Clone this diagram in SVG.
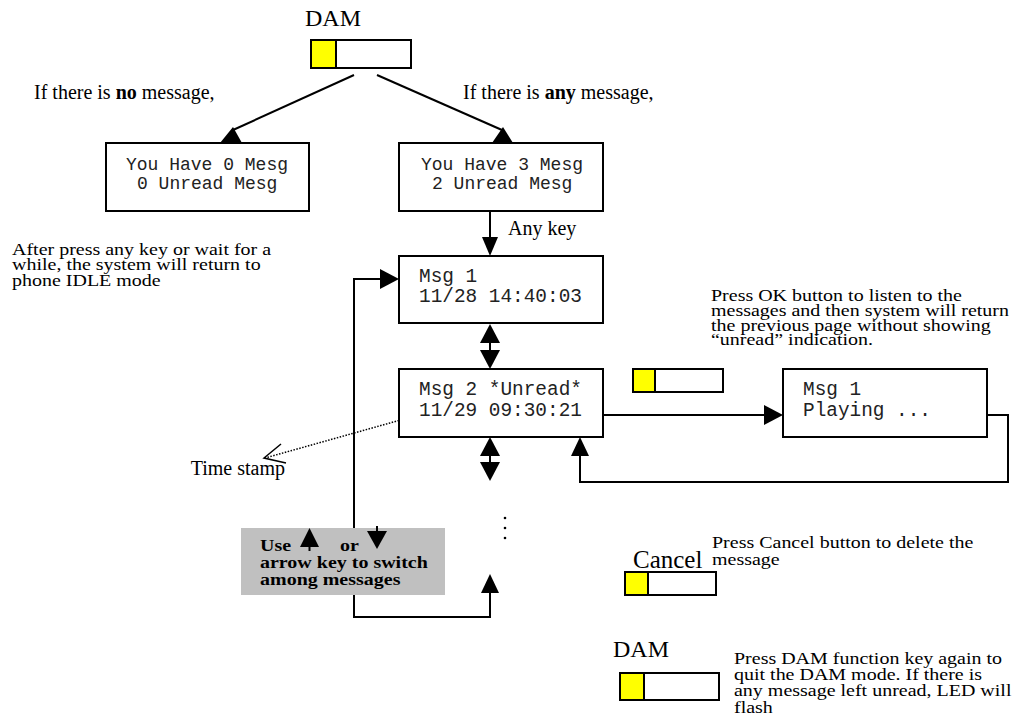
<svg xmlns="http://www.w3.org/2000/svg" width="1014" height="719" viewBox="0 0 1014 719">
<style>
.t{font-family:"Liberation Serif","Times New Roman",serif;font-size:20px;fill:#000}
.n{font-family:"Liberation Serif","Times New Roman",serif;font-size:17px;fill:#000}
.big{font-family:"Liberation Serif","Times New Roman",serif;font-size:24px;fill:#000}
.b{font-weight:bold}
.m18{font-family:"Liberation Mono","Courier New",monospace;font-size:18px;fill:#222}
.m19{font-family:"Liberation Mono","Courier New",monospace;font-size:19.4px;fill:#222}
.box{fill:#fff;stroke:#000;stroke-width:2}
.btn{fill:#fff;stroke:#000;stroke-width:2}
.led{fill:#ffff00;stroke:#000;stroke-width:2}
.ln{fill:none;stroke:#000;stroke-width:2}
.dot{fill:none;stroke:#000;stroke-width:1.5;stroke-dasharray:1.5 1.5}
.ah{fill:#000;stroke:none}
</style>
<rect x="0" y="0" width="1014" height="719" fill="#fff"/>

<g id="connectors">
  <line class="ln" x1="354" y1="75" x2="233" y2="130"/>
  <polygon class="ah" points="220,143 242,143 233,127"/>
  <line class="ln" x1="377" y1="75" x2="502" y2="130"/>
  <polygon class="ah" points="492,143 513,143 503,127"/>
  <line class="ln" x1="490" y1="211" x2="490" y2="238"/>
  <polygon class="ah" points="482,237 498,237 490,256"/>
  <line class="ln" x1="490" y1="335" x2="490" y2="358"/>
  <polygon class="ah" points="480,343 500,343 490,324"/>
  <polygon class="ah" points="480,350 500,350 490,369"/>
  <line class="ln" x1="490" y1="448" x2="490" y2="470"/>
  <polygon class="ah" points="480,456 500,456 490,437"/>
  <polygon class="ah" points="480,462 500,462 490,481"/>
  <line class="ln" x1="603" y1="415" x2="766" y2="415"/>
  <polygon class="ah" points="764,405 764,425 783,415"/>
  <polyline class="ln" points="987,415 1008,415 1008,482 580,482 580,454"/>
  <polygon class="ah" points="571,456 589,456 580,437"/>
  <polyline class="ln" points="490,591 490,617 354,617 354,279 382,279"/>
  <polygon class="ah" points="481,593 499,593 490,574"/>
  <polygon class="ah" points="380,269 380,289 399,279"/>
  <line class="dot" x1="422" y1="414" x2="265" y2="458"/>
  <polyline class="ln" style="stroke-width:1.5" points="281,444 264,458 286,463"/>
</g>

<g id="dam-top">
  <text class="big" x="305" y="26">DAM</text>
  <rect class="btn" x="311" y="40" width="100" height="28"/>
  <rect class="led" x="311" y="40" width="25" height="28"/>
</g>

<g id="label-no">
  <text class="t" x="34" y="99">If there is <tspan class="b">no</tspan> message,</text>
</g>
<g id="label-any">
  <text class="t" x="463" y="99">If there is <tspan class="b">any</tspan> message,</text>
</g>

<g id="box-0mesg">
  <rect class="box" x="106" y="143" width="203" height="68"/>
  <text class="m18" x="126" y="170">You Have 0 Mesg</text>
  <text class="m18" x="137" y="189">0 Unread Mesg</text>
</g>

<g id="box-3mesg">
  <rect class="box" x="399" y="143" width="204" height="68"/>
  <text class="m18" x="421" y="170">You Have 3 Mesg</text>
  <text class="m18" x="432" y="189">2 Unread Mesg</text>
</g>

<g id="label-anykey">
  <text class="t" x="508" y="235">Any key</text>
</g>

<g id="note-idle" transform="translate(12,0) scale(1.176,1)">
  <text class="n" x="0" y="255">After press any key or wait for a</text>
  <text class="n" x="0" y="270">while, the system will return to</text>
  <text class="n" x="0" y="286">phone IDLE mode</text>
</g>

<g id="box-msg1">
  <rect class="box" x="399" y="256" width="204" height="67"/>
  <text class="m19" x="419" y="282">Msg 1</text>
  <text class="m19" x="419" y="302">11/28 14:40:03</text>
</g>

<g id="box-msg2">
  <rect class="box" x="399" y="369" width="204" height="68"/>
  <text class="m19" x="419" y="395">Msg 2 *Unread*</text>
  <text class="m19" x="419" y="416">11/29 09:30:21</text>
</g>

<g id="note-ok" transform="translate(711,0) scale(1.176,1)">
  <text class="n" x="0" y="301">Press OK button to listen to the</text>
  <text class="n" x="0" y="316">messages and then system will return</text>
  <text class="n" x="0" y="331">the previous page without showing</text>
  <text class="n" x="0" y="345">“unread” indication.</text>
</g>

<g id="ok-button">
  <rect class="btn" x="633" y="369" width="90" height="23"/>
  <rect class="led" x="633" y="369" width="22" height="23"/>
</g>

<g id="box-playing">
  <rect class="box" x="783" y="369" width="204" height="68"/>
  <text class="m19" x="803" y="395">Msg 1</text>
  <text class="m19" x="803" y="416">Playing ...</text>
</g>

<g id="label-timestamp">
  <text class="t" x="285" y="475" text-anchor="end">Time stamp</text>
</g>

<g id="dots">
  <circle cx="505" cy="518" r="1.3" fill="#000"/>
  <circle cx="505" cy="528" r="1.3" fill="#000"/>
  <circle cx="505" cy="538" r="1.3" fill="#000"/>
</g>

<g id="note-arrowkeys">
  <rect x="241" y="528" width="204" height="67" fill="#c0c0c0"/>
  <polygon class="ah" points="300,547 319,547 309.5,528"/>
  <line class="ln" x1="309.5" y1="546" x2="309.5" y2="551"/>
  <line class="ln" x1="377" y1="526" x2="377" y2="532"/>
  <polygon class="ah" points="367,531 387,531 377,549"/>
  <g transform="translate(260,0) scale(1.176,1)">
    <text class="n b" x="0" y="551">Use</text>
    <text class="n b" x="68" y="551">or</text>
    <text class="n b" x="0" y="568">arrow key to switch</text>
    <text class="n b" x="0" y="585">among messages</text>
  </g>
</g>

<g id="cancel">
  <g transform="translate(712,0) scale(1.176,1)">
    <text class="n" x="0" y="548">Press Cancel button to delete the</text>
    <text class="n" x="0" y="565">message</text>
  </g>
  <text class="big" style="font-size:25px" x="633" y="568">Cancel</text>
  <rect class="btn" x="625" y="572" width="91" height="23"/>
  <rect class="led" x="625" y="572" width="23" height="23"/>
</g>

<g id="dam-bottom">
  <text class="big" x="613" y="657">DAM</text>
  <rect class="btn" x="620" y="673" width="99" height="27"/>
  <rect class="led" x="620" y="673" width="24" height="27"/>
  <g transform="translate(734,0) scale(1.176,1)">
    <text class="n" x="0" y="664">Press DAM function key again to</text>
    <text class="n" x="0" y="680">quit the DAM mode. If there is</text>
    <text class="n" x="0" y="696">any message left unread, LED will</text>
    <text class="n" x="0" y="713">flash</text>
  </g>
</g>
</svg>
